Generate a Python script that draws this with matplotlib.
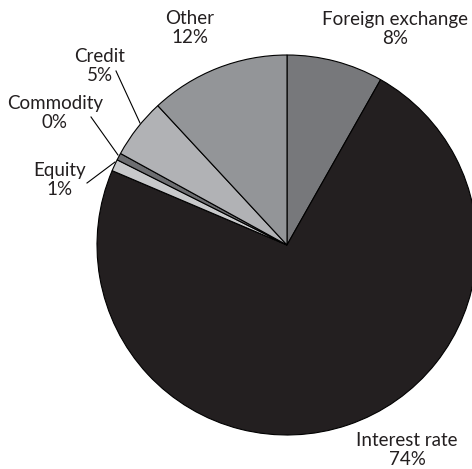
import matplotlib.pyplot as plt

# share of contracts by asset class, clockwise from 12 o'clock
categories = ['Foreign exchange', 'Interest rate', 'Equity', 'Commodity', 'Credit', 'Other']
shares = [8.2, 73.2, 1.0, 0.6, 5.1, 11.9]
pct_labels = ['8%', '74%', '1%', '0%', '5%', '12%']
colors = ['#77787b', '#231f20', '#c8c9cb', '#6d6e71', '#b1b2b5', '#939598']

plt.rcParams['font.family'] = ['Lato', 'DejaVu Sans']

W, H = 472, 469
cx, cy, R = 287, 245, 190


def px(x, y):
    # picture pixels -> data coords (pie radius 1)
    return (x - cx) / R, (cy - y) / R


fig = plt.figure(figsize=(W / 100, H / 100), dpi=100)
ax = fig.add_axes([0, 0, 1, 1])
ax.pie(shares, colors=colors, startangle=90, counterclock=False, radius=1,
       wedgeprops=dict(edgecolor='black', linewidth=0.8))
ax.set_xlim(-cx / R, (W - cx) / R)
ax.set_ylim(-(H - cy) / R, cy / R)
ax.set_aspect('equal')
ax.axis('off')

label_pos = [(395, 29), (407, 450), (60, 180), (55, 113), (100, 66), (190, 28)]
for name, pct, (lx, ly) in zip(categories, pct_labels, label_pos):
    x, y = px(lx, ly)
    ax.text(x, y, f'{name}\n{pct}', ha='center', va='center', fontsize=13.5,
            color='#231f20', linespacing=1.2)

# leader lines for the thin slices
leaders = [((116, 71), (140, 123)), ((91, 117), (118, 155)), ((87, 183), (115, 162))]
for a, b in leaders:
    x0, y0 = px(*a)
    x1, y1 = px(*b)
    ax.plot([x0, x1], [y0, y1], color='black', lw=0.8)

fig.savefig('out.png', dpi=100)
